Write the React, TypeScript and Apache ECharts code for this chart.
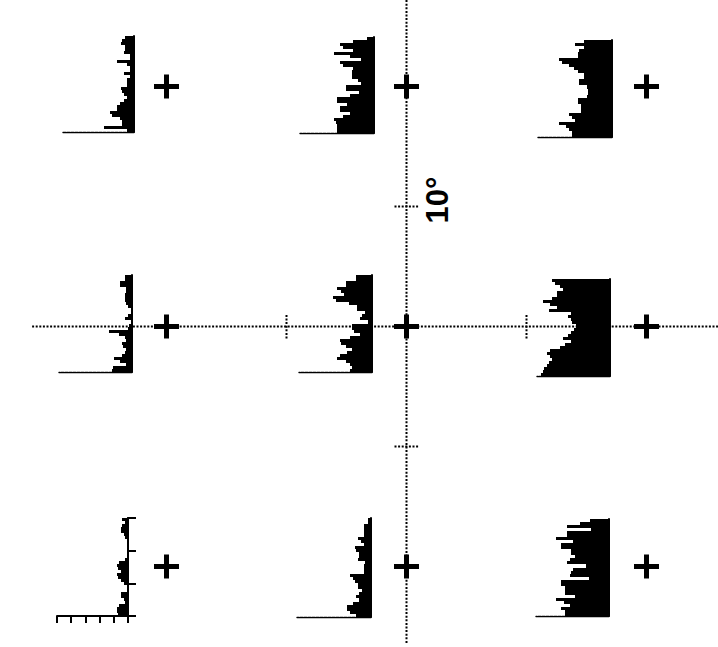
import React, { useEffect, useRef } from "react";
import * as echarts from "echarts";

// Bin labels along the (rotated) time axis, top to bottom
const bins = [
  "1","2","3","4","5","6","7","8","9","10","11","12","13","14","15","16",
  "17","18","19","20","21","22","23","24","25","26","27","28","29","30","31","32",
];

// Response histograms (arbitrary rate units, axis 0–50), one per stimulus position
const upLeft = [6,8,9,6,6,7,3,3,12,5,3,3,7,3,5,5,5,9,8,7,5,7,10,12,12,17,15,10,8,8,21,5];
const upCenter = [5,14,23,21,14,27,16,9,23,21,14,15,15,15,11,9,19,19,10,16,25,25,18,23,23,16,21,27,26,25,25,25];
const upRight = [19,25,19,22,23,23,36,34,29,26,23,19,19,22,22,17,16,16,17,23,23,21,21,21,29,27,25,36,31,29,27,27];
const midLeft = [5,5,8,8,4,4,5,5,5,4,3,1,1,3,5,1,2,3,16,9,5,4,7,6,4,5,7,12,8,4,13,14];
const midCenter = [11,11,18,18,24,21,19,27,25,16,10,10,5,7,8,3,14,14,12,8,15,22,21,18,14,17,22,24,18,15,14,15];
const midRight = [40,38,34,32,36,36,40,46,41,36,42,27,29,27,26,23,25,27,29,32,27,31,34,41,43,41,40,42,43,45,46,47];
const lowLeft = [4,2,4,5,5,3,2,1,1,1,1,1,1,2,6,8,7,5,8,7,5,3,1,1,5,5,3,2,6,8,8,7];
const lowCenter = [2,2,5,5,5,5,9,7,5,11,10,8,8,9,4,5,5,5,14,12,11,9,9,6,8,10,8,12,16,16,14,10];
const lowRight = [13,20,29,12,29,29,36,25,33,33,26,26,23,27,29,16,25,26,27,14,33,33,30,30,30,23,36,31,27,33,30,30];

// Stimulus positions (degrees of visual angle)
const crossX = [-20, 0, 20, -20, 0, 20, -20, 0, 20];
const crossY = [20, 20, 20, 0, 0, 0, -20, -20, -20];

// Reference meridians (degrees) and 10° scale ticks
const hMeridianX = [-31.2, 26];
const vMeridianY = [27.2, -26.4];
const scaleTicks = [-10, 10];
const tickHalf = 1;

const panelData = [upLeft, upCenter, upRight, midLeft, midCenter, midRight, lowLeft, lowCenter, lowRight];

// layout of each histogram panel (px)
const panelRects = [
  { left: 62, top: 36, width: 72, height: 96 },
  { left: 300, top: 37, width: 74, height: 96 },
  { left: 538, top: 40, width: 74, height: 97 },
  { left: 59, top: 275, width: 73, height: 97 },
  { left: 299, top: 275, width: 73, height: 97 },
  { left: 537, top: 279, width: 73, height: 97 },
  { left: 57, top: 518, width: 71, height: 98 },
  { left: 297, top: 518, width: 74, height: 99 },
  { left: 536, top: 519, width: 73, height: 97 },
];

const W = 718;
const H = 647;
const PX_PER_DEG = 12;
const CX = 406.5;
const CY = 326.5;

export default function App() {
  const ref = useRef<HTMLDivElement>(null);

  useEffect(() => {
    document.body.style.margin = "0";
    if (!ref.current) return;
    const chart = echarts.init(ref.current, undefined, { renderer: "svg" });

    const grids: any[] = [];
    const xAxes: any[] = [];
    const yAxes: any[] = [];
    const series: any[] = [];

    const renderBin = (_params: any, api: any) => {
      const v = api.value(0);
      const k = api.value(1);
      const base = api.coord([0, k]);
      const tip = api.coord([v, k]);
      const band = api.size([0, 1])[1];
      const y0 = Math.round(base[1] - band / 2);
      const y1 = Math.round(base[1] + band / 2);
      const xr = Math.round(base[0]);
      const xl = Math.round(tip[0]);
      return {
        type: "rect",
        shape: { x: xl, y: y0, width: xr - xl, height: y1 - y0 },
        style: { fill: "#000" },
      };
    };

    panelRects.forEach((r, i) => {
      grids.push({ left: r.left, top: r.top, width: r.width, height: r.height, containLabel: false });
      const isScalePanel = i === 6;
      xAxes.push({
        type: "value",
        gridIndex: i,
        min: 0,
        max: 50,
        interval: 10,
        inverse: true,
        axisLine: { show: true, onZero: false, lineStyle: { color: "#000", width: isScalePanel ? 2 : 1.4, type: isScalePanel ? "solid" : [3, 1] } },
        axisTick: { show: isScalePanel, length: 7, lineStyle: { color: "#000", width: 2 } },
        axisLabel: { show: false },
        splitLine: { show: false },
      });
      const yIdx = yAxes.length;
      yAxes.push({
        type: "category",
        gridIndex: i,
        data: bins,
        inverse: true,
        position: "right",
        axisLine: { show: true, lineStyle: { color: "#000", width: 2 } },
        axisTick: { show: false },
        axisLabel: { show: false },
        splitLine: { show: false },
      });
      if (isScalePanel) {
        yAxes.push({
          type: "value",
          gridIndex: i,
          min: 0,
          max: 3,
          interval: 1,
          position: "right",
          axisLine: { show: true, lineStyle: { color: "#000", width: 2 } },
          axisTick: { show: true, length: 8, lineStyle: { color: "#000", width: 2 } },
          axisLabel: { show: false },
          splitLine: { show: false },
        });
      }
      series.push({
        type: "custom",
        xAxisIndex: i,
        yAxisIndex: yIdx,
        data: panelData[i].map((v, k) => [v, k]),
        encode: { x: 0, y: 1 },
        renderItem: renderBin,
        silent: true,
        z: 2,
      });
    });

    // global grid in degrees
    const gIdx = grids.length;
    grids.push({ left: 0, top: 0, width: W, height: H });
    xAxes.push({
      type: "value",
      gridIndex: gIdx,
      min: -CX / PX_PER_DEG,
      max: (W - CX) / PX_PER_DEG,
      show: false,
    });
    const gy = yAxes.length;
    yAxes.push({
      type: "value",
      gridIndex: gIdx,
      min: -(H - CY) / PX_PER_DEG,
      max: CY / PX_PER_DEG,
      show: false,
    });

    const dotted = { color: "#000", width: 2, type: [2, 1.6] as any };
    const lineSeries = (data: number[][]) => ({
      type: "line",
      xAxisIndex: gIdx,
      yAxisIndex: gy,
      data,
      symbol: "none",
      lineStyle: dotted,
      silent: true,
      z: 5,
    });
    series.push(lineSeries([[hMeridianX[0], 0], [hMeridianX[1], 0]]));
    series.push(lineSeries([[0, vMeridianY[0]], [0, vMeridianY[1]]]));
    scaleTicks.forEach((t) => {
      series.push(lineSeries([[t, -tickHalf], [t, tickHalf]]));
      series.push(lineSeries([[-tickHalf, t], [tickHalf, t]]));
    });

    series.push({
      type: "scatter",
      xAxisIndex: gIdx,
      yAxisIndex: gy,
      data: crossX.map((x, i) => [x, crossY[i]]),
      symbol: "path://M0,10H25V15H0Z M10,0H15V25H10Z",
      symbolSize: [25, 24],
      itemStyle: { color: "#000", opacity: 1 },
      silent: true,
      z: 10,
    });

    chart.setOption({
      animation: false,
      backgroundColor: "#fff",
      grid: grids,
      xAxis: xAxes,
      yAxis: yAxes,
      series,
      graphic: [
        {
          type: "text",
          x: 437,
          y: 200,
          rotation: Math.PI / 2,
          style: {
            text: "10°",
            font: "bold 31px 'Liberation Sans', Arial, sans-serif",
            fill: "#000",
            textAlign: "center",
            textVerticalAlign: "middle",
          },
        },
      ],
    });

    return () => chart.dispose();
  }, []);

  return <div ref={ref} style={{ width: W, height: H }} />;
}
